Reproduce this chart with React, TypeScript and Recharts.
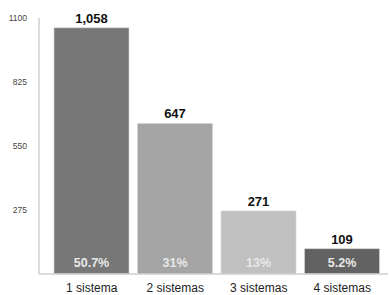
import { BarChart, Bar, XAxis, YAxis, Cell, LabelList } from 'recharts';

const categories = ['1 sistema', '2 sistemas', '3 sistemas', '4 sistemas'];
const counts = [1058, 647, 271, 109];
const shares = ['50.7%', '31%', '13%', '5.2%'];
const yTicks = [275, 550, 825, 1100];
const barColors = ['#777777', '#a4a4a4', '#c0c0c0', '#626262'];

const data = categories.map((name, i) => ({ name, value: counts[i], share: shares[i] }));

const font = 'Liberation Sans, Arial, Helvetica, sans-serif';

function ShareLabel(props: any) {
  const { x, y, width, height, value } = props;
  return (
    <text
      x={x + width / 2}
      y={y + height - 7}
      textAnchor="middle"
      fill="#e8e8e8"
      fontSize={12.5}
      fontWeight="bold"
      fontFamily={font}
    >
      {value}
    </text>
  );
}

function CountLabel(props: any) {
  const { x, y, width, value } = props;
  return (
    <text
      x={x + width / 2}
      y={y - 5}
      textAnchor="middle"
      fill="#111"
      fontSize={13}
      fontWeight="bold"
      fontFamily={font}
    >
      {Number(value).toLocaleString('en-US')}
    </text>
  );
}

export default function App() {
  return (
    <div style={{ position: 'absolute', left: 0, top: 0, background: '#fff' }}>
      <BarChart
        width={390}
        height={295}
        data={data}
        margin={{ top: 18, right: 2, left: 0, bottom: 0 }}
        barSize={75}
      >
        <XAxis
          dataKey="name"
          tickLine={false}
          axisLine={{ stroke: '#cfcfcf', strokeWidth: 1.5 }}
          height={21}
          padding={{ left: 11, right: 4 }}
          tick={{ fontSize: 12, fill: '#222', fontFamily: font }}
          tickMargin={3}
          interval={0}
        />
        <YAxis
          width={39}
          domain={[0, 1100]}
          ticks={yTicks}
          tickLine={false}
          axisLine={{ stroke: '#cfcfcf', strokeWidth: 1.5 }}
          tick={{ fontSize: 8.5, fill: '#444', fontFamily: font }}
          tickMargin={6}
        />
        <Bar dataKey="value" isAnimationActive={false} stroke="#d8d8d8" strokeWidth={0.6}>
          {data.map((d, i) => (
            <Cell key={d.name} fill={barColors[i]} />
          ))}
          <LabelList dataKey="value" content={CountLabel} />
          <LabelList dataKey="share" content={ShareLabel} />
        </Bar>
      </BarChart>
    </div>
  );
}
